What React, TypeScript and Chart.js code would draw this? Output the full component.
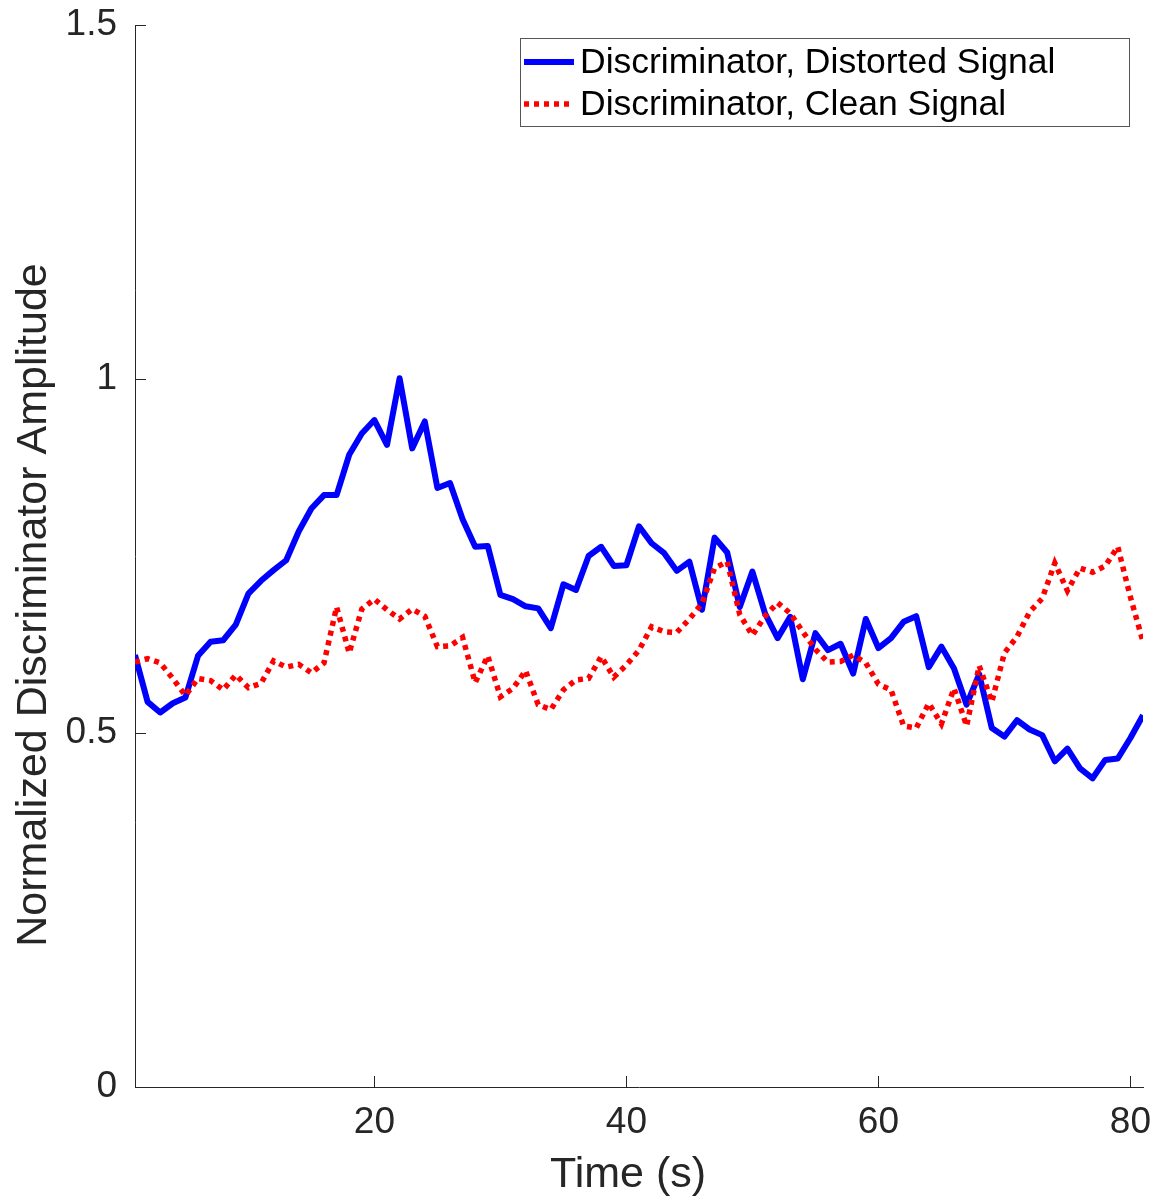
import React, { useEffect, useRef } from "react";
import { Chart, registerables } from "chart.js";

Chart.register(...registerables);

// ---- data ----
const TIME_S = [
  1, 2, 3, 4, 5, 6, 7, 8, 9, 10,
  11, 12, 13, 14, 15, 16, 17, 18, 19, 20,
  21, 22, 23, 24, 25, 26, 27, 28, 29, 30,
  31, 32, 33, 34, 35, 36, 37, 38, 39, 40,
  41, 42, 43, 44, 45, 46, 47, 48, 49, 50,
  51, 52, 53, 54, 55, 56, 57, 58, 59, 60,
  61, 62, 63, 64, 65, 66, 67, 68, 69, 70,
  71, 72, 73, 74, 75, 76, 77, 78, 79, 80,
  81,
];

const DISTORTED = [
  0.610, 0.544, 0.529, 0.542, 0.550, 0.609, 0.629, 0.631, 0.653, 0.697,
  0.715, 0.730, 0.744, 0.785, 0.817, 0.836, 0.836, 0.893, 0.923, 0.942,
  0.907, 1.001, 0.902, 0.940, 0.846, 0.853, 0.802, 0.763, 0.764, 0.695,
  0.689, 0.679, 0.676, 0.648, 0.710, 0.702, 0.750, 0.763, 0.736, 0.737,
  0.792, 0.768, 0.754, 0.729, 0.742, 0.674, 0.776, 0.755, 0.678, 0.728,
  0.669, 0.634, 0.664, 0.576, 0.641, 0.617, 0.626, 0.584, 0.661, 0.620,
  0.634, 0.657, 0.665, 0.593, 0.622, 0.591, 0.540, 0.583, 0.507, 0.495,
  0.518, 0.505, 0.497, 0.460, 0.478, 0.450, 0.436, 0.462, 0.464, 0.493,
  0.525,
];

const CLEAN = [
  0.600, 0.605, 0.599, 0.577, 0.553, 0.577, 0.574, 0.561, 0.582, 0.564,
  0.570, 0.602, 0.593, 0.597, 0.585, 0.599, 0.678, 0.613, 0.675, 0.689,
  0.674, 0.661, 0.675, 0.665, 0.622, 0.623, 0.635, 0.571, 0.609, 0.551,
  0.563, 0.588, 0.540, 0.533, 0.561, 0.575, 0.577, 0.608, 0.579, 0.596,
  0.617, 0.650, 0.643, 0.642, 0.661, 0.683, 0.733, 0.742, 0.667, 0.638,
  0.665, 0.684, 0.669, 0.643, 0.618, 0.600, 0.601, 0.610, 0.599, 0.569,
  0.561, 0.510, 0.507, 0.542, 0.513, 0.563, 0.510, 0.595, 0.544, 0.613,
  0.636, 0.671, 0.690, 0.740, 0.701, 0.733, 0.727, 0.736, 0.763, 0.692,
  0.629,
];

const X_TICKS = [20, 40, 60, 80];
const Y_TICKS = [0, 0.5, 1, 1.5];
const SERIES_LABELS = ["Discriminator, Distorted Signal", "Discriminator, Clean Signal"];
const X_TITLE = "Time (s)";
const Y_TITLE = "Normalized Discriminator Amplitude";

const FONT = '"Liberation Sans", Arial, Helvetica, sans-serif';
const AXIS_COLOR = "#262626";

const matlabPlugin = {
  id: "matlabDecor",
  afterDraw(chart: any) {
    const { ctx, chartArea, scales } = chart;
    ctx.save();

    // inward tick marks
    ctx.strokeStyle = AXIS_COLOR;
    ctx.lineWidth = 1;
    ctx.beginPath();
    for (const v of Y_TICKS) {
      const y = Math.round(scales.y.getPixelForValue(v)) + 0.5;
      ctx.moveTo(chartArea.left, y);
      ctx.lineTo(chartArea.left + 11, y);
    }
    for (const v of X_TICKS) {
      const x = Math.round(scales.x.getPixelForValue(v)) + 0.5;
      ctx.moveTo(x, chartArea.bottom);
      ctx.lineTo(x, chartArea.bottom - 11);
    }
    ctx.stroke();

    // axis titles
    ctx.fillStyle = AXIS_COLOR;
    ctx.font = `43px ${FONT}`;
    ctx.textAlign = "center";
    ctx.textBaseline = "alphabetic";
    ctx.fillText(X_TITLE, 628, 1187);
    ctx.save();
    ctx.translate(46, 605);
    ctx.rotate(-Math.PI / 2);
    ctx.fillText(Y_TITLE, 0, 0);
    ctx.restore();

    // legend box
    const bx = 520.5, by = 38.5, bw = 609, bh = 88;
    ctx.fillStyle = "#ffffff";
    ctx.fillRect(bx, by, bw, bh);
    ctx.strokeStyle = "#555555";
    ctx.lineWidth = 1;
    ctx.strokeRect(bx, by, bw, bh);

    const rows = [62, 104];
    chart.data.datasets.forEach((ds: any, i: number) => {
      const y = rows[i];
      ctx.save();
      ctx.strokeStyle = ds.borderColor;
      ctx.lineWidth = ds.borderWidth;
      ctx.setLineDash(ds.borderDash || []);
      ctx.lineCap = "butt";
      ctx.beginPath();
      ctx.moveTo(524, y);
      ctx.lineTo(574, y);
      ctx.stroke();
      ctx.restore();
      ctx.fillStyle = "#000000";
      ctx.font = `35.5px ${FONT}`;
      ctx.textAlign = "left";
      ctx.textBaseline = "middle";
      ctx.fillText(ds.label, 580, y + 1);
    });

    ctx.restore();
  },
};

export default function App() {
  const canvasRef = useRef<HTMLCanvasElement | null>(null);

  useEffect(() => {
    const canvas = canvasRef.current;
    if (!canvas) return;
    const chart = new Chart(canvas, {
      type: "line",
      data: {
        datasets: [
          {
            label: SERIES_LABELS[0],
            data: TIME_S.map((t, i) => ({ x: t, y: DISTORTED[i] })),
            borderColor: "#0000ff",
            borderWidth: 6,
            pointRadius: 0,
            tension: 0,
            borderJoinStyle: "round",
            fill: false,
            order: 1,
          },
          {
            label: SERIES_LABELS[1],
            data: TIME_S.map((t, i) => ({ x: t, y: CLEAN[i] })),
            borderColor: "#ff0000",
            borderWidth: 5.5,
            borderDash: [5, 5],
            pointRadius: 0,
            tension: 0,
            fill: false,
            order: 0,
          },
        ],
      },
      options: {
        responsive: false,
        animation: false,
        devicePixelRatio: 1,
        layout: { padding: { top: 25, right: 13, left: 0, bottom: 0 } },
        plugins: {
          legend: { display: false },
          tooltip: { enabled: false },
          title: { display: false },
        },
        scales: {
          x: {
            type: "linear",
            min: 1,
            max: 81,
            afterBuildTicks: (s: any) => {
              s.ticks = X_TICKS.map((v) => ({ value: v }));
            },
            afterFit: (s: any) => {
              s.height = 110;
              s.paddingLeft = 0;
              s.paddingRight = 0;
              s.paddingTop = 0;
              s.paddingBottom = 0;
            },
            grid: { display: true, drawOnChartArea: false, drawTicks: false },
            border: { display: true, color: AXIS_COLOR, width: 1 },
            ticks: {
              autoSkip: false,
              maxRotation: 0,
              padding: 14,
              color: AXIS_COLOR,
              font: { family: FONT, size: 37 },
              callback: (v: any) => String(v),
            },
          },
          y: {
            type: "linear",
            min: 0,
            max: 1.5,
            afterBuildTicks: (s: any) => {
              s.ticks = Y_TICKS.map((v) => ({ value: v }));
            },
            afterFit: (s: any) => {
              s.width = 135;
              s.paddingLeft = 0;
              s.paddingRight = 0;
              s.paddingTop = 0;
              s.paddingBottom = 0;
            },
            grid: { display: true, drawOnChartArea: false, drawTicks: false },
            border: { display: true, color: AXIS_COLOR, width: 1 },
            ticks: {
              padding: 18,
              color: AXIS_COLOR,
              font: { family: FONT, size: 37 },
              callback: (v: any) => String(v),
            },
          },
        },
      },
      plugins: [matlabPlugin],
    } as any);
    return () => chart.destroy();
  }, []);

  return (
    <div style={{ position: "absolute", left: 0, top: 0, width: 1156, height: 1197, background: "#ffffff" }}>
      <canvas ref={canvasRef} width={1156} height={1197} style={{ display: "block" }} />
    </div>
  );
}
